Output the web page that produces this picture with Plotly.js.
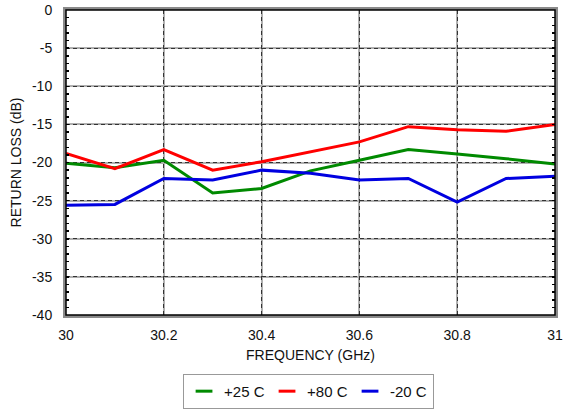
<!DOCTYPE html>
<html>
<head>
<meta charset="utf-8">
<script src="https://cdn.plot.ly/plotly-3.0.1.min.js"></script>
<style>html,body{margin:0;padding:0;background:#fff;}#chart{width:563px;height:410px;}</style>
</head>
<body>
<div id="chart"></div>
<script>
const freq = [30.0, 30.1, 30.2, 30.3, 30.4, 30.5, 30.6, 30.7, 30.8, 30.9, 31.0];
const rl25 = [-20.1, -20.7, -19.7, -24.0, -23.4, -21.1, -19.7, -18.3, -18.9, -19.5, -20.2];
const rl80 = [-18.8, -20.8, -18.3, -21.0, -19.9, -18.6, -17.3, -15.3, -15.7, -15.9, -15.0];
const rlm20 = [-25.6, -25.5, -22.1, -22.3, -21.0, -21.4, -22.3, -22.1, -25.2, -22.1, -21.8];
const seriesNames = ['+25 C', '+80 C', '-20 C'];
const seriesColors = ['#008a00', '#ff0000', '#0000e0'];
const xTickVals = [30, 30.2, 30.4, 30.6, 30.8, 31];
const xTickText = ['30', '30.2', '30.4', '30.6', '30.8', '31'];
const yTickVals = [0, -5, -10, -15, -20, -25, -30, -35, -40];
const yTickText = ['0', '-5', '-10', '-15', '-20', '-25', '-30', '-35', '-40'];

const ff = 'Liberation Sans, Arial, Helvetica, sans-serif';
const font = {family: ff, size: 14, color: '#111'};
const seriesY = [rl25, rl80, rlm20];

const traces = [];
seriesY.forEach(function (ys, i) {
  traces.push({x: freq, y: ys, name: seriesNames[i], mode: 'lines', showlegend: false,
    line: {color: seriesColors[i], width: 3}});
});
// legend keys (short line markers, no data points)
seriesNames.forEach(function (nm, i) {
  traces.push({x: [null], y: [null], name: nm, mode: 'markers', showlegend: true,
    marker: {symbol: 'line-ew-open', size: 12, color: seriesColors[i], line: {color: seriesColors[i], width: 3}}});
});
traces.push({x: [], y: [], xaxis: 'x2', yaxis: 'y2', showlegend: false, hoverinfo: 'skip'});

const layout = {
  width: 563, height: 410,
  margin: {l: 66, r: 8, t: 10, b: 95, autoexpand: false},
  paper_bgcolor: '#fff', plot_bgcolor: '#fff',
  font: font,
  showlegend: true,
  xaxis: {
    range: [30, 31], tickvals: xTickVals, ticktext: xTickText,
    showgrid: true, gridcolor: '#b0b0b0', gridwidth: 2,
    zeroline: false, showline: true, linecolor: '#8a8a8a', linewidth: 3, mirror: true,
    ticks: '', tickfont: font, ticklabelstandoff: 5, automargin: false,
    title: {text: 'FREQUENCY (GHz)', font: font, standoff: 9}
  },
  yaxis: {
    range: [-40, 0], tickvals: yTickVals, ticktext: yTickText,
    showgrid: true, gridcolor: '#b0b0b0', gridwidth: 2,
    zeroline: false, showline: true, linecolor: '#8a8a8a', linewidth: 3, mirror: 'allticks',
    ticks: 'inside', ticklen: 3, tickcolor: '#000', tickwidth: 1.5,
    minor: {ticks: 'inside', dtick: 1, ticklen: 3, tickcolor: '#000', tickwidth: 1.5, showgrid: false},
    tickfont: font, ticklabelstandoff: 8, automargin: false,
    title: {text: 'RETURN LOSS (dB)', font: font, standoff: 8}
  },
  xaxis2: {
    overlaying: 'x', range: [30, 31], dtick: 0.2, tick0: 30,
    showgrid: true, gridcolor: '#333', gridwidth: 1, griddash: '4px,3px',
    showticklabels: false, zeroline: false, showline: false, ticks: ''
  },
  yaxis2: {
    overlaying: 'y', range: [-40, 0], dtick: 5, tick0: 0,
    showgrid: true, gridcolor: '#333', gridwidth: 1, griddash: '4px,3px',
    showticklabels: false, zeroline: false, showline: false, ticks: ''
  },
  legend: {
    orientation: 'h', xref: 'container', yref: 'container',
    x: 0.548, xanchor: 'center', y: 0.088, yanchor: 'top',
    bordercolor: '#999', borderwidth: 1, bgcolor: '#fff',
    font: {family: ff, size: 15, color: '#111'},
    traceorder: 'normal', entrywidth: 38, entrywidthmode: 'pixels'
  },
  shapes: [
    {type: 'rect', xref: 'x domain', yref: 'y domain', x0: 0, x1: 1, y0: 0, y1: 1,
     line: {color: '#000', width: 1.5}, fillcolor: 'rgba(0,0,0,0)', layer: 'above'}
  ]
};

Plotly.newPlot('chart', traces, layout, {staticPlot: true, displayModeBar: false});
</script>
</body>
</html>
